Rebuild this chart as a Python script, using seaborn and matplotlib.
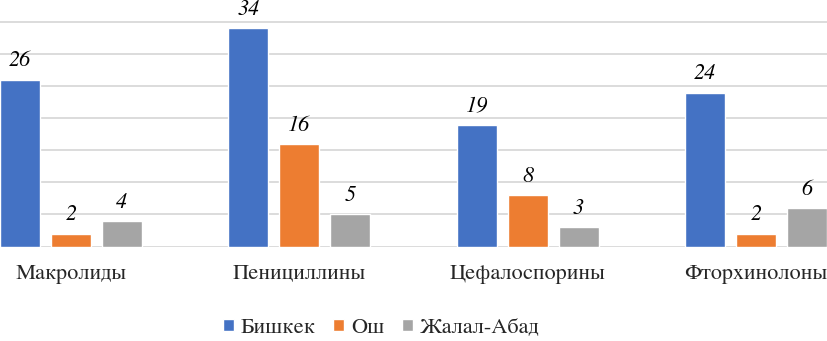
import matplotlib
matplotlib.use("Agg")
import matplotlib.pyplot as plt
import seaborn as sns
import pandas as pd
from matplotlib.patches import Patch
from matplotlib import font_manager

categories = ["Макролиды", "Пенициллины", "Цефалоспорины", "Фторхинолоны"]
series = ["Бишкек", "Ош", "Жалал-Абад"]
bishkek = [26, 34, 19, 24]
osh = [2, 16, 8, 2]
jalal_abad = [4, 5, 3, 6]
colors = ["#4472C4", "#ED7D31", "#A5A5A5"]

rows = []
for name, vals in zip(series, [bishkek, osh, jalal_abad]):
    for c, v in zip(categories, vals):
        rows.append({"cat": c, "city": name, "val": v})
df = pd.DataFrame(rows)

sns.set_theme(style="white")
names = {f.name for f in font_manager.fontManager.ttflist}
serif_family = "DejaVu Serif"
for cand in ["Tinos", "Times New Roman", "STIXGeneral", "PT Serif", "Noto Serif"]:
    if cand in names:
        serif_family = cand
        break
fam = [serif_family, "PT Serif", "DejaVu Serif"]
plt.rcParams["font.family"] = fam

fig = plt.figure(figsize=(8.27, 3.41), dpi=100)
bottom = (341 - 246.5) / 341
ax = fig.add_axes([0, bottom, 1, 1 - bottom])

sns.barplot(data=df, x="cat", y="val", hue="city", palette=colors,
            order=categories, hue_order=series, width=0.67, gap=0.215,
            saturation=1, ax=ax, legend=False, zorder=3)

ax.set_xlim(-0.311, 3.311)
ax.set_ylim(0, 246.5 / 6.414)
ax.set_yticks(range(0, 40, 5))
ax.yaxis.grid(True, color="#d9d9d9", linewidth=1.3, zorder=0)
ax.set_axisbelow(True)
for s in ax.spines.values():
    s.set_visible(False)
ax.tick_params(axis="y", left=False, labelleft=False)
ax.tick_params(axis="x", bottom=False, pad=7, labelsize=16)
for t in ax.get_xticklabels():
    t.set_fontfamily(fam)
ax.set_xlabel("")
ax.set_ylabel("")

for cont in ax.containers:
    for bar in cont:
        h = bar.get_height()
        ax.annotate(f"{int(h)}", (bar.get_x() + bar.get_width() / 2, h),
                    xytext=(0, 6), textcoords="offset points",
                    ha="center", va="bottom", fontsize=16, style="italic",
                    family=fam, color="#000000")

handles = [Patch(facecolor=c, label=s) for c, s in zip(colors, series)]
fig.legend(handles=handles, loc="center", bbox_to_anchor=(381 / 827, 1 - 328 / 341),
           ncol=3, frameon=False, prop={"family": fam, "size": 16},
           handlelength=0.5, handleheight=0.5,
           handletextpad=0.3, columnspacing=0.8)

fig.savefig("out.png", dpi=100)
